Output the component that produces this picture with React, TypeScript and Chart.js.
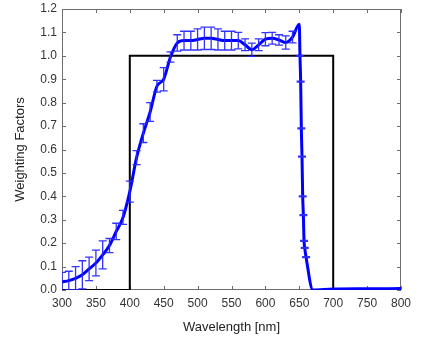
import React, { useEffect, useRef } from "react";
import { Chart, registerables } from "chart.js";

Chart.register(...registerables);

// Measured weighting factor (blue curve)
const wavelengths = [
  300, 310, 320, 330, 340, 350, 360, 370, 380, 390,
  400, 410, 420, 430, 440, 450, 460, 470, 480, 490,
  500, 510, 520, 530, 540, 550, 560, 570, 580, 590,
  600, 610, 620, 630, 640, 650,
  651, 652, 653, 654, 655, 656, 657, 658, 660, 670,
  700, 750, 800,
];
const factors = [
  0.035, 0.04, 0.05, 0.065, 0.09, 0.115, 0.15, 0.19, 0.25, 0.31,
  0.42, 0.565, 0.67, 0.76, 0.87, 0.9, 0.995, 1.055, 1.065, 1.065,
  1.07, 1.075, 1.075, 1.07, 1.065, 1.065, 1.065, 1.047, 1.026, 1.047,
  1.071, 1.075, 1.068, 1.057, 1.08, 1.135,
  1.0, 0.89, 0.69, 0.57, 0.4, 0.32, 0.21, 0.18, 0.14, 0.0,
  0.004, 0.005, 0.006,
];
const errors = [
  0.04, 0.04, 0.05, 0.06, 0.05, 0.055, 0.06, 0.03, 0.035, 0.03,
  0.045, 0.03, 0.04, 0.04, 0.025, 0.05, 0.022, 0.035, 0.04, 0.04,
  0.045, 0.048, 0.048, 0.045, 0.04, 0.04, 0.035, 0.025, 0.028, 0.025,
  0.028, 0.025, 0.022, 0.028, 0.025, 0,
  0.002, 0.002, 0.002, 0.002, 0.002, 0.002, 0.002, 0.002, 0.002, 0,
  0, 0, 0,
];

// Ideal rectangular weighting (black)
const filterX = [300, 400, 400, 700, 700, 800];
const filterY = [0, 0, 1, 1, 0, 0];

const xTicks = [300, 350, 400, 450, 500, 550, 600, 650, 700, 750, 800];
const yTicks = [0, 0.1, 0.2, 0.3, 0.4, 0.5, 0.6, 0.7, 0.8, 0.9, 1.0, 1.1, 1.2];

const FONT = "'Liberation Sans', Arial, Helvetica, sans-serif";

const framePlugin = {
  id: "frameTicks",
  beforeDatasetsDraw(chart: any) {
    const { ctx, chartArea, scales } = chart;
    const { left, right, top, bottom } = chartArea;
    const x = scales.x;
    const y = scales.y;
    ctx.save();
    ctx.strokeStyle = "#6e6e6e";
    ctx.lineWidth = 1;
    ctx.strokeRect(left + 0.5, top + 0.5, right - left - 1, bottom - top - 1);
    const len = 4;
    ctx.beginPath();
    for (const v of xTicks) {
      const px = Math.round(x.getPixelForValue(v)) + 0.5;
      ctx.moveTo(px, bottom);
      ctx.lineTo(px, bottom - len);
      ctx.moveTo(px, top);
      ctx.lineTo(px, top + len);
    }
    for (const v of yTicks) {
      const py = Math.round(y.getPixelForValue(v)) + 0.5;
      ctx.moveTo(left, py);
      ctx.lineTo(left + len, py);
      ctx.moveTo(right, py);
      ctx.lineTo(right - len, py);
    }
    ctx.stroke();
    ctx.restore();
  },
};

const errorBarPlugin = {
  id: "errorBars",
  afterDatasetsDraw(chart: any) {
    const { ctx, chartArea, scales } = chart;
    const x = scales.x;
    const y = scales.y;
    ctx.save();
    ctx.beginPath();
    ctx.rect(chartArea.left, chartArea.top, chartArea.right - chartArea.left, chartArea.bottom - chartArea.top);
    ctx.clip();
    ctx.strokeStyle = "rgba(40,40,255,0.95)";
    ctx.lineWidth = 1.3;
    const cap = 4;
    ctx.beginPath();
    for (let i = 0; i < wavelengths.length; i++) {
      const e = errors[i];
      if (!e) continue;
      const px = x.getPixelForValue(wavelengths[i]);
      const yt = y.getPixelForValue(factors[i] + e);
      const yb = y.getPixelForValue(factors[i] - e);
      ctx.moveTo(px, yt);
      ctx.lineTo(px, yb);
      ctx.moveTo(px - cap, yt);
      ctx.lineTo(px + cap, yt);
      ctx.moveTo(px - cap, yb);
      ctx.lineTo(px + cap, yb);
    }
    ctx.stroke();
    ctx.restore();
  },
};

export default function App() {
  const ref = useRef<HTMLCanvasElement | null>(null);

  useEffect(() => {
    if (!ref.current) return;
    const chart = new Chart(ref.current, {
      type: "line",
      data: {
        datasets: [
          {
            label: "Measured",
            data: wavelengths.map((w, i) => ({ x: w, y: factors[i] })),
            borderColor: "#0000ff",
            borderWidth: 3,
            pointRadius: 0,
            cubicInterpolationMode: "monotone",
            fill: false,
          },
          {
            label: "Ideal",
            data: filterX.map((w, i) => ({ x: w, y: filterY[i] })),
            borderColor: "#000000",
            borderWidth: 2,
            pointRadius: 0,
            tension: 0,
            fill: false,
          },
        ],
      },
      options: {
        animation: false,
        responsive: false,
        maintainAspectRatio: false,
        layout: { padding: { top: 9, right: 26, left: 0, bottom: 0 } },
        plugins: {
          legend: { display: false },
          tooltip: { enabled: false },
        },
        scales: {
          x: {
            type: "linear",
            min: 300,
            max: 800,
            afterBuildTicks: (s: any) => {
              s.ticks = xTicks.map((v) => ({ value: v }));
            },
            afterFit: (s: any) => {
              s.height = 50;
              s.paddingLeft = 0;
              s.paddingRight = 0;
            },
            grid: { display: false, drawTicks: false },
            border: { display: false },
            ticks: {
              color: "#333",
              padding: 6,
              maxRotation: 0,
              autoSkip: false,
              font: { family: FONT, size: 12 },
            },
            title: {
              display: true,
              text: "Wavelength [nm]",
              color: "#222",
              font: { family: FONT, size: 13 },
              padding: { top: 0, bottom: 5 },
            },
          },
          y: {
            type: "linear",
            min: 0,
            max: 1.2,
            afterBuildTicks: (s: any) => {
              s.ticks = yTicks.map((v) => ({ value: v }));
            },
            afterFit: (s: any) => {
              s.width = 62;
              s.paddingTop = 0;
              s.paddingBottom = 0;
            },
            grid: { display: false, drawTicks: false },
            border: { display: false },
            ticks: {
              color: "#333",
              padding: 5,
              autoSkip: false,
              callback: (v: any) => Number(v).toFixed(1),
              font: { family: FONT, size: 12 },
            },
            title: {
              display: true,
              text: "Weighting Factors",
              color: "#222",
              font: { family: FONT, size: 13 },
              padding: { top: 13, bottom: 0 },
            },
          },
        },
      },
      plugins: [framePlugin, errorBarPlugin],
    } as any);
    return () => chart.destroy();
  }, []);

  return (
    <div style={{ position: "absolute", left: 0, top: 0, width: 427, height: 340, background: "#fff" }}>
      <canvas ref={ref} width={427} height={340} style={{ display: "block" }} />
    </div>
  );
}
